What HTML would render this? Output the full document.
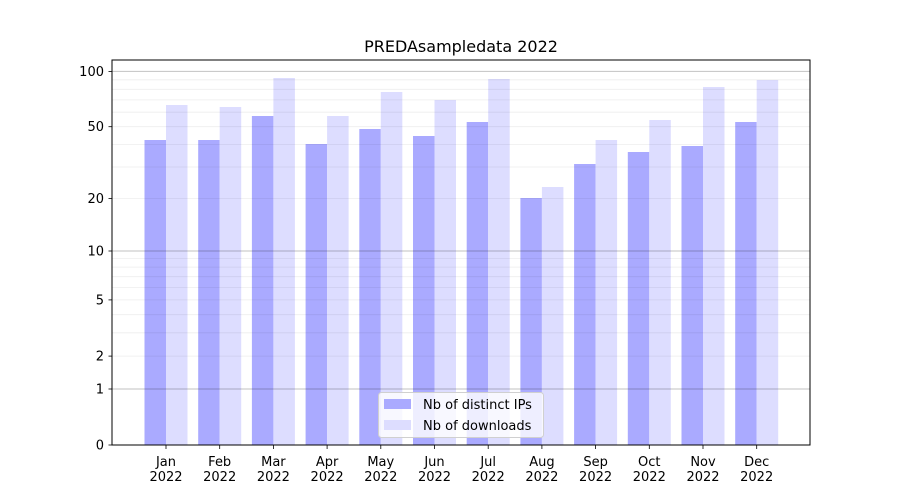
<!DOCTYPE html><html><head><style>body{margin:0;background:#fff}svg{display:block;font-family:"DejaVu Sans","Liberation Sans",sans-serif}</style></head><body>
<svg width="900" height="500" viewBox="0 0 900 500" xmlns="http://www.w3.org/2000/svg">
<rect width="900" height="500" fill="#fff"/>
<g>
<rect x="144.5" y="140" width="21.5" height="305" fill="#aaaaff"/><rect x="166" y="105" width="21.5" height="340" fill="#ddddff"/>
<rect x="198.2" y="140" width="21.5" height="305" fill="#aaaaff"/><rect x="219.7" y="107" width="21.5" height="338" fill="#ddddff"/>
<rect x="251.9" y="116" width="21.5" height="329" fill="#aaaaff"/><rect x="273.4" y="78" width="21.5" height="367" fill="#ddddff"/>
<rect x="305.6" y="144" width="21.5" height="301" fill="#aaaaff"/><rect x="327.1" y="116" width="21.5" height="329" fill="#ddddff"/>
<rect x="359.3" y="129" width="21.5" height="316" fill="#aaaaff"/><rect x="380.8" y="92" width="21.5" height="353" fill="#ddddff"/>
<rect x="413" y="136" width="21.5" height="309" fill="#aaaaff"/><rect x="434.5" y="100" width="21.5" height="345" fill="#ddddff"/>
<rect x="466.7" y="122" width="21.5" height="323" fill="#aaaaff"/><rect x="488.2" y="79" width="21.5" height="366" fill="#ddddff"/>
<rect x="520.4" y="198" width="21.5" height="247" fill="#aaaaff"/><rect x="541.9" y="187" width="21.5" height="258" fill="#ddddff"/>
<rect x="574.1" y="164" width="21.5" height="281" fill="#aaaaff"/><rect x="595.6" y="140" width="21.5" height="305" fill="#ddddff"/>
<rect x="627.8" y="152" width="21.5" height="293" fill="#aaaaff"/><rect x="649.3" y="120" width="21.5" height="325" fill="#ddddff"/>
<rect x="681.5" y="146" width="21.5" height="299" fill="#aaaaff"/><rect x="703" y="87" width="21.5" height="358" fill="#ddddff"/>
<rect x="735.2" y="122" width="21.5" height="323" fill="#aaaaff"/><rect x="756.7" y="80" width="21.5" height="365" fill="#ddddff"/>
</g>
<g stroke="#000" stroke-opacity="0.07" stroke-width="0.8">
<line x1="112" x2="810" y1="356.1" y2="356.1"/><line x1="112" x2="810" y1="332.8" y2="332.8"/><line x1="112" x2="810" y1="314.7" y2="314.7"/><line x1="112" x2="810" y1="299.9" y2="299.9"/><line x1="112" x2="810" y1="287.5" y2="287.5"/><line x1="112" x2="810" y1="276.7" y2="276.7"/><line x1="112" x2="810" y1="267.1" y2="267.1"/><line x1="112" x2="810" y1="258.6" y2="258.6"/>
<line x1="112" x2="810" y1="198.5" y2="198.5"/><line x1="112" x2="810" y1="167" y2="167"/><line x1="112" x2="810" y1="144.4" y2="144.4"/><line x1="112" x2="810" y1="126.7" y2="126.7"/><line x1="112" x2="810" y1="112.2" y2="112.2"/><line x1="112" x2="810" y1="99.9" y2="99.9"/><line x1="112" x2="810" y1="89.3" y2="89.3"/><line x1="112" x2="810" y1="79.8" y2="79.8"/>
</g>
<g stroke="#000" stroke-opacity="0.24" stroke-width="1">
<line x1="112" x2="810" y1="389" y2="389"/><line x1="112" x2="810" y1="251" y2="251"/><line x1="112" x2="810" y1="71.4" y2="71.4"/>
</g>
<rect x="112" y="60" width="698" height="385" fill="none" stroke="#000" stroke-width="1"/>
<g stroke="#000" stroke-width="0.8">
<line x1="108.5" x2="112" y1="445" y2="445"/><line x1="108.5" x2="112" y1="389" y2="389"/><line x1="108.5" x2="112" y1="356.1" y2="356.1"/><line x1="108.5" x2="112" y1="299.9" y2="299.9"/><line x1="108.5" x2="112" y1="251" y2="251"/><line x1="108.5" x2="112" y1="198.5" y2="198.5"/><line x1="108.5" x2="112" y1="126.7" y2="126.7"/><line x1="108.5" x2="112" y1="71.4" y2="71.4"/>
<line x1="166" x2="166" y1="445" y2="449"/><line x1="219.7" x2="219.7" y1="445" y2="449"/><line x1="273.4" x2="273.4" y1="445" y2="449"/><line x1="327.1" x2="327.1" y1="445" y2="449"/><line x1="380.8" x2="380.8" y1="445" y2="449"/><line x1="434.5" x2="434.5" y1="445" y2="449"/><line x1="488.2" x2="488.2" y1="445" y2="449"/><line x1="541.9" x2="541.9" y1="445" y2="449"/><line x1="595.6" x2="595.6" y1="445" y2="449"/><line x1="649.3" x2="649.3" y1="445" y2="449"/><line x1="703" x2="703" y1="445" y2="449"/><line x1="756.7" x2="756.7" y1="445" y2="449"/>
</g>
<g font-size="13" text-anchor="end" fill="#000">
<text x="104" y="449.5">0</text><text x="104" y="393.5">1</text><text x="104" y="360.5">2</text><text x="104" y="304.5">5</text><text x="104" y="255.5">10</text><text x="104" y="203">20</text><text x="104" y="131">50</text><text x="104" y="76">100</text>
</g>
<g font-size="13" text-anchor="middle" fill="#000">
<text x="166" y="466">Jan</text><text x="166" y="481">2022</text>
<text x="219.7" y="466">Feb</text><text x="219.7" y="481">2022</text>
<text x="273.4" y="466">Mar</text><text x="273.4" y="481">2022</text>
<text x="327.1" y="466">Apr</text><text x="327.1" y="481">2022</text>
<text x="380.8" y="466">May</text><text x="380.8" y="481">2022</text>
<text x="434.5" y="466">Jun</text><text x="434.5" y="481">2022</text>
<text x="488.2" y="466">Jul</text><text x="488.2" y="481">2022</text>
<text x="541.9" y="466">Aug</text><text x="541.9" y="481">2022</text>
<text x="595.6" y="466">Sep</text><text x="595.6" y="481">2022</text>
<text x="649.3" y="466">Oct</text><text x="649.3" y="481">2022</text>
<text x="703" y="466">Nov</text><text x="703" y="481">2022</text>
<text x="756.7" y="466">Dec</text><text x="756.7" y="481">2022</text>
<text x="461" y="52" font-size="16">PREDAsampledata 2022</text>
</g>
<rect x="378.5" y="392.5" width="165" height="45" rx="3" fill="#fff" fill-opacity="0.8" stroke="#d0d0d0"/>
<rect x="384" y="399" width="27" height="10" fill="#aaaaff"/>
<rect x="384" y="420" width="27" height="10" fill="#ddddff"/>
<g font-size="13" fill="#000"><text x="423" y="409">Nb of distinct IPs</text><text x="423" y="430">Nb of downloads</text></g>
</svg>
</body></html>
